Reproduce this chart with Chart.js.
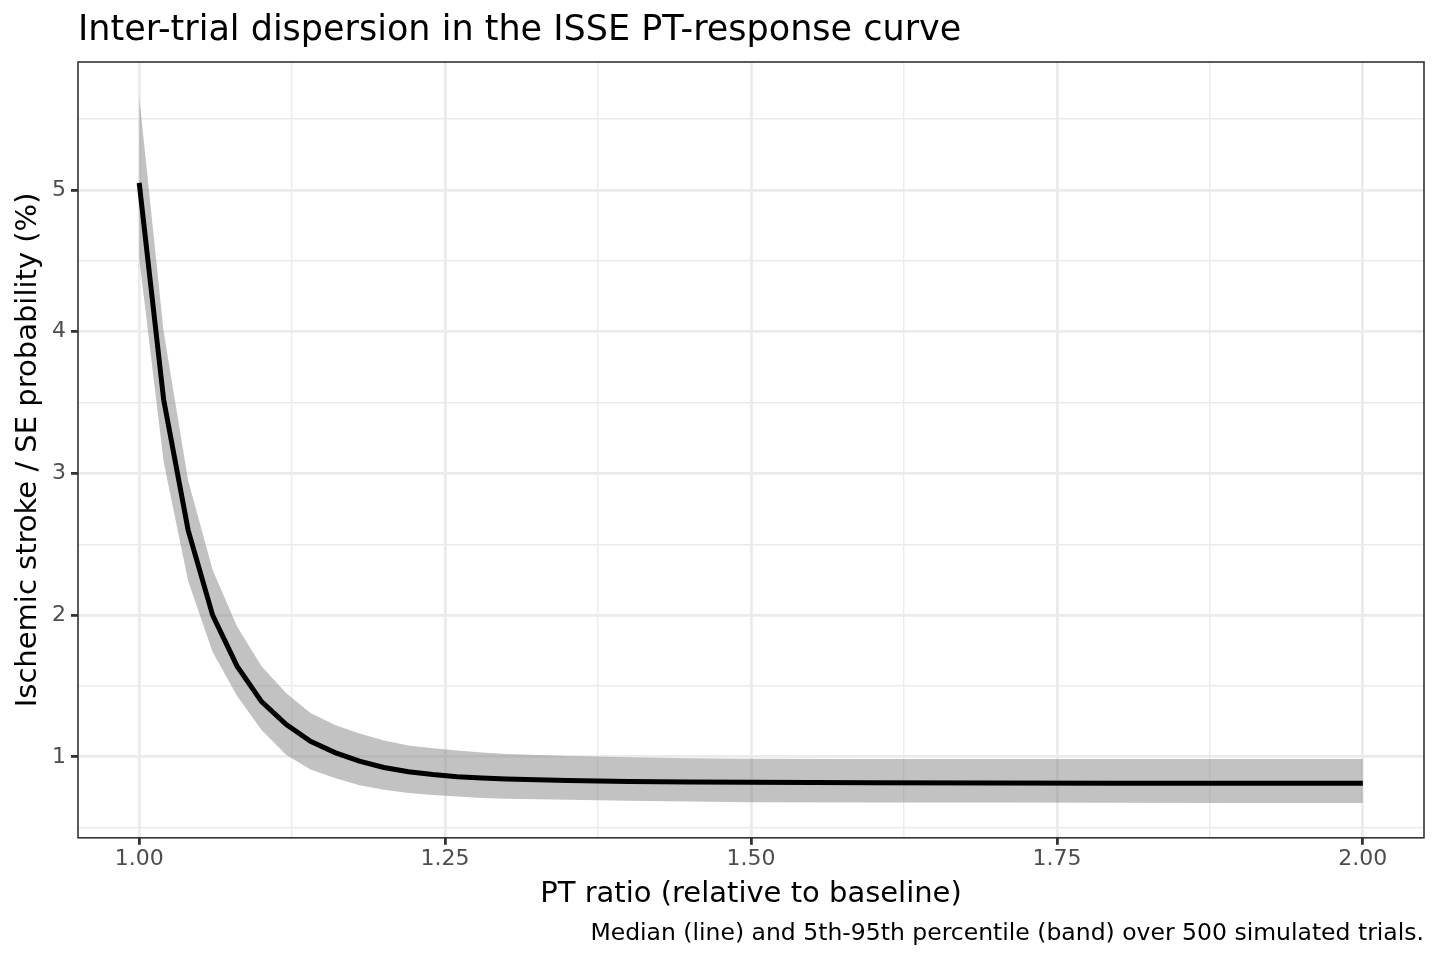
<!DOCTYPE html>
<html lang="en">
<head>
  <meta charset="UTF-8" />
  <title>Inter-trial dispersion in the ISSE PT-response curve</title>
  <script src="https://cdn.jsdelivr.net/npm/chart.js"></script>
  <style>
    html, body { margin: 0; padding: 0; background: #ffffff; }
    #wrap { width: 1440px; height: 960px; }
  </style>
</head>
<body>
  <div id="wrap"><canvas id="isseChart"></canvas></div>

  <script>
    // PT ratio (x) and percentiles over simulated trials
    const ptRatio   = [1.00, 1.02, 1.04, 1.06, 1.08, 1.10, 1.12, 1.14, 1.16, 1.18, 1.20, 1.22, 1.24, 1.26, 1.28, 1.30,
                       1.35, 1.40, 1.45, 1.50, 1.60, 1.70, 1.80, 1.90, 2.00];
    const medianPct = [5.05, 3.52, 2.60, 2.00, 1.64, 1.39, 1.23, 1.11, 1.03, 0.97, 0.925, 0.895, 0.875, 0.86, 0.85, 0.843,
                       0.833, 0.826, 0.822, 0.82, 0.817, 0.815, 0.814, 0.813, 0.813];
    const upperPct  = [5.66, 4.00, 2.95, 2.32, 1.92, 1.64, 1.45, 1.31, 1.225, 1.165, 1.115, 1.08, 1.06, 1.045, 1.03, 1.02,
                       1.005, 0.997, 0.99, 0.987, 0.985, 0.984, 0.984, 0.984, 0.984];
    const lowerPct  = [4.52, 3.08, 2.24, 1.74, 1.43, 1.19, 1.015, 0.91, 0.85, 0.80, 0.767, 0.745, 0.73, 0.72, 0.71, 0.705,
                       0.697, 0.69, 0.685, 0.68, 0.678, 0.677, 0.676, 0.675, 0.675];

    // grid positions (major ones get a label)
    const xGridTicks = [1.00, 1.125, 1.25, 1.375, 1.50, 1.625, 1.75, 1.875, 2.00];
    const xMajor     = [1.00, 1.25, 1.50, 1.75, 2.00];
    const yGridTicks = [0.5, 1, 1.5, 2, 2.5, 3, 3.5, 4, 4.5, 5, 5.5];
    const yMajor     = [1, 2, 3, 4, 5];

    const FONT = "'DejaVu Sans', 'Noto Sans', sans-serif";

    function toPoints(ys) {
      return ptRatio.map((x, i) => ({ x: x, y: ys[i] }));
    }

    function isMajor(list, v) {
      return list.some(m => Math.abs(m - v) < 1e-9);
    }

    // panel border on top of everything
    const panelBorder = {
      id: 'panelBorder',
      afterDatasetsDraw(chart) {
        const a = chart.chartArea;
        const ctx = chart.ctx;
        ctx.save();
        ctx.strokeStyle = '#333333';
        ctx.lineWidth = 1.6;
        ctx.strokeRect(a.left, a.top, a.right - a.left, a.bottom - a.top);
        ctx.restore();
      }
    };

    function gridOpts(majorList) {
      return {
        color: '#EBEBEB',
        lineWidth: c => (c.tick && isMajor(majorList, c.tick.value)) ? 2.8 : 1.4,
        tickColor: c => (c.tick && isMajor(majorList, c.tick.value)) ? '#333333' : 'rgba(0,0,0,0)',
        tickWidth: 2.8,
        tickLength: 7,
        drawTicks: true
      };
    }

    const ctx = document.getElementById('isseChart').getContext('2d');

    const chart = new Chart(ctx, {
      type: 'line',
      data: {
        datasets: [
          {
            label: 'Median',
            data: toPoints(medianPct),
            borderColor: '#000000',
            borderWidth: 5,
            pointRadius: 0,
            tension: 0,
            fill: false
          },
          {
            label: '5th percentile',
            data: toPoints(lowerPct),
            borderWidth: 0,
            borderColor: 'rgba(0,0,0,0)',
            pointRadius: 0,
            tension: 0,
            fill: false
          },
          {
            label: '95th percentile',
            data: toPoints(upperPct),
            borderWidth: 0,
            borderColor: 'rgba(0,0,0,0)',
            backgroundColor: 'rgba(127,127,127,0.48)',
            pointRadius: 0,
            tension: 0,
            fill: 1
          }
        ]
      },
      options: {
        responsive: true,
        maintainAspectRatio: false,
        animation: false,
        layout: { padding: { left: 0, right: 16, top: 0, bottom: 0 } },
        plugins: {
          legend: { display: false },
          tooltip: { enabled: false },
          title: {
            display: true,
            text: 'Inter-trial dispersion in the ISSE PT-response curve',
            align: 'start',
            fullSize: false,
            color: '#000000',
            font: { family: FONT, size: 35, weight: 'normal' },
            padding: { top: 10, bottom: 10 }
          },
          subtitle: {
            display: true,
            position: 'bottom',
            text: 'Median (line) and 5th-95th percentile (band) over 500 simulated trials.',
            align: 'end',
            fullSize: false,
            color: '#000000',
            font: { family: FONT, size: 23.5, weight: 'normal' },
            padding: { top: 6, bottom: 12 }
          }
        },
        scales: {
          x: {
            type: 'linear',
            min: 0.95,
            max: 2.05,
            afterBuildTicks: s => { s.ticks = xGridTicks.map(v => ({ value: v })); },
            afterFit: s => { s.height = 76; },
            grid: gridOpts(xMajor),
            border: { display: false },
            ticks: {
              autoSkip: false,
              maxRotation: 0,
              padding: 1,
              color: '#4D4D4D',
              font: { family: FONT, size: 22, lineHeight: 1.2 },
              callback: v => isMajor(xMajor, v) ? v.toFixed(2) : ''
            },
            title: {
              display: true,
              text: 'PT ratio (relative to baseline)',
              color: '#000000',
              font: { family: FONT, size: 29 },
              padding: { top: 0, bottom: 2 }
            }
          },
          y: {
            type: 'linear',
            min: 0.4286,
            max: 5.903,
            afterBuildTicks: s => { s.ticks = yGridTicks.map(v => ({ value: v })); },
            afterFit: s => { s.width = 78; },
            grid: gridOpts(yMajor),
            border: { display: false },
            ticks: {
              autoSkip: false,
              padding: 5,
              color: '#4D4D4D',
              font: { family: FONT, size: 22 },
              callback: v => isMajor(yMajor, v) ? String(v) : ''
            },
            title: {
              display: true,
              text: 'Ischemic stroke / SE probability (%)',
              color: '#000000',
              font: { family: FONT, size: 29 },
              padding: { top: 11, bottom: 0 }
            }
          }
        }
      },
      plugins: [panelBorder]
    });
  </script>
</body>
</html>
